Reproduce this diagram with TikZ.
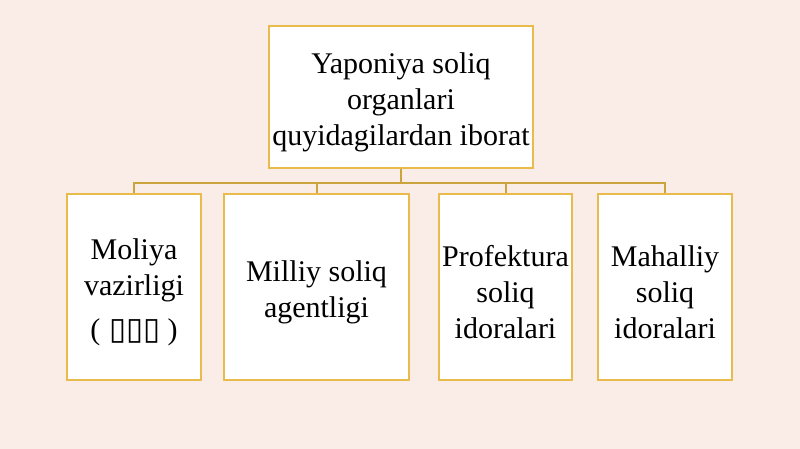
\documentclass[tikz,border=0pt]{standalone}
\usepackage{fontspec}
\setmainfont{Liberation Serif}
\newfontfamily\symfont{DejaVu Sans}
\usetikzlibrary{positioning}
\definecolor{bgpink}{RGB}{250,237,232}
\definecolor{gold}{RGB}{232,187,76}
\definecolor{darkgold}{RGB}{204,164,62}
\tikzstyle{block} = [rectangle, draw=gold, line width=2pt, fill=white,
    align=center, font=\fontsize{30}{36}\selectfont, inner sep=0pt]
\tikzstyle{line} = [draw=darkgold, line width=2pt]
\newcommand{\lift}{\rule{0pt}{31pt}}

\begin{document}
\begin{tikzpicture}[x=1pt, y=1pt]

		\fill [bgpink] (0,0) rectangle (800,449);
		\useasboundingbox (0,0) rectangle (800,449);

		\node [block, minimum width=264pt, minimum height=142pt] (top) at (401,352)
			{\lift Yaponiya soliq\\organlari\\quyidagilardan iborat};

		\node [block, minimum width=134pt, minimum height=186pt] (moliya) at (134,162)
			{\lift Moliya\\vazirligi\\[8pt]({\symfont\fontsize{31}{36}\selectfont\hspace{9pt}▯▯▯\hspace{7pt}})};
		\node [block, minimum width=185pt, minimum height=186pt] (milliy) at (316.5,162)
			{\lift Milliy soliq\\agentligi};
		\node [block, minimum width=133pt, minimum height=186pt] (profektura) at (505.5,162)
			{\lift Profektura\\soliq\\idoralari};
		\node [block, minimum width=134pt, minimum height=186pt] (mahalliy) at (665,162)
			{\lift Mahalliy\\soliq\\idoralari};

		\path [line] (top.south) -- ++(0,-14) -| (moliya.north);
		\path [line] (top.south) -- ++(0,-14) -| (milliy.north);
		\path [line] (top.south) -- ++(0,-14) -| (profektura.north);
		\path [line] (top.south) -- ++(0,-14) -| (mahalliy.north);
	\end{tikzpicture}
\end{document}
